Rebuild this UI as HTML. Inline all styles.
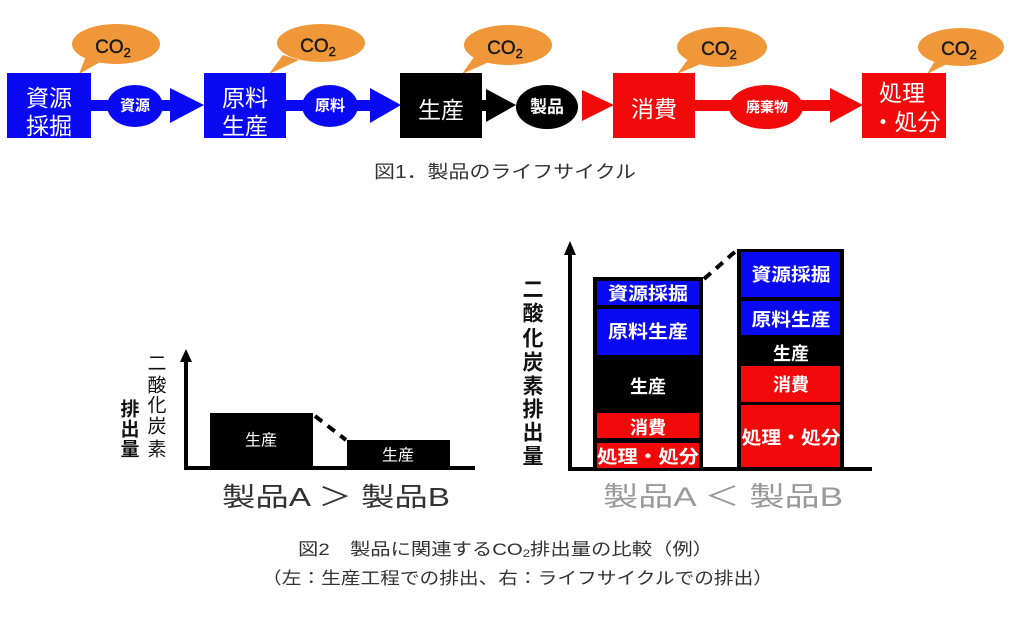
<!DOCTYPE html>
<html><head><meta charset="utf-8"><style>
html,body{margin:0;padding:0;background:#fff;}
svg{display:block;}
text{font-family:"Liberation Sans","Noto Sans CJK JP",sans-serif;}
</style></head><body>
<svg width="1024" height="617" viewBox="0 0 1024 617" xmlns="http://www.w3.org/2000/svg">
<rect width="1024" height="617" fill="#fff"/>

<!-- clouds -->
<g fill="#f0973a">
<ellipse cx="116" cy="44" rx="44" ry="20"/><polygon points="86,56 102,61 79,74"/>
<ellipse cx="321" cy="43" rx="44" ry="19"/><polygon points="283,55 299,60 269,74"/>
<ellipse cx="508" cy="45" rx="44" ry="20"/><polygon points="474,57 489,62 462,74"/>
<ellipse cx="722" cy="47" rx="45" ry="20"/><polygon points="689,58 703,63 677,74"/>
<ellipse cx="961" cy="47" rx="43" ry="19"/><polygon points="936,59 949,63 927,74"/>
</g>
<g fill="#1a1a1a" font-size="19" text-anchor="middle" stroke="#1a1a1a" stroke-width="0.4">
<text x="113" y="53">CO<tspan font-size="13" dy="4">2</tspan></text>
<text x="318" y="52">CO<tspan font-size="13" dy="4">2</tspan></text>
<text x="505" y="54">CO<tspan font-size="13" dy="4">2</tspan></text>
<text x="719" y="55">CO<tspan font-size="13" dy="4">2</tspan></text>
<text x="959" y="55">CO<tspan font-size="13" dy="4">2</tspan></text>
</g>

<!-- connectors -->
<rect x="90" y="100" width="85" height="11" fill="#0a0af2"/>
<ellipse cx="135" cy="106" rx="28" ry="21" fill="#0a0af2"/>
<polygon points="170,88 170,123 204,105" fill="#0a0af2"/>
<rect x="285" y="100" width="88" height="11" fill="#0a0af2"/>
<ellipse cx="330" cy="106" rx="28" ry="21" fill="#0a0af2"/>
<polygon points="370,88 370,123 401,105" fill="#0a0af2"/>
<rect x="481" y="100" width="10" height="11" fill="#000"/>
<polygon points="486,89 486,122 516,105" fill="#000"/>
<ellipse cx="547" cy="107" rx="31" ry="22" fill="#000"/>
<polygon points="582,90 582,121 614,105" fill="#f20a0a"/>
<rect x="694" y="100" width="140" height="11" fill="#f20a0a"/>
<ellipse cx="766" cy="107" rx="37" ry="22" fill="#f20a0a"/>
<polygon points="830,88 830,123 863,105" fill="#f20a0a"/>

<g fill="#fff" font-weight="bold" text-anchor="middle" dominant-baseline="central">
<text x="135" y="106" font-size="15">資源</text>
<text x="330" y="106" font-size="15">原料</text>
<text x="547" y="107" font-size="17">製品</text>
<text x="767" y="107" font-size="14">廃棄物</text>
</g>

<!-- boxes -->
<rect x="7" y="73" width="84" height="65" fill="#0a0af2"/>
<rect x="204" y="73" width="82" height="65" fill="#0a0af2"/>
<rect x="400" y="73" width="82" height="65" fill="#000"/>
<rect x="613" y="73" width="82" height="65" fill="#f20a0a"/>
<rect x="862" y="73" width="84" height="65" fill="#f20a0a"/>
<g fill="#fff" font-size="23" text-anchor="middle" dominant-baseline="central">
<text x="49" y="98">資源</text>
<text x="49" y="126">採掘</text>
<text x="245" y="98">原料</text>
<text x="245" y="126">生産</text>
<text x="441" y="110">生産</text>
<text x="654" y="109">消費</text>
<text x="902" y="93">処理</text>
<text x="906" y="122">・処分</text>
</g>

<text x="374" y="178" font-size="18" fill="#333" textLength="262" lengthAdjust="spacingAndGlyphs">図1．製品のライフサイクル</text>

<!-- Fig2 left -->
<line x1="186" y1="358" x2="186" y2="470" stroke="#000" stroke-width="4"/>
<polygon points="180,362 192,362 186,349" fill="#000"/>
<line x1="184" y1="468" x2="475" y2="468" stroke="#000" stroke-width="4"/>
<rect x="210" y="413" width="103" height="55" fill="#000"/>
<rect x="347" y="440" width="103" height="28" fill="#000"/>
<line x1="315" y1="416" x2="346" y2="440" stroke="#000" stroke-width="4" stroke-dasharray="9,7"/>
<g fill="#fff" font-size="16" text-anchor="middle" dominant-baseline="central">
<text x="261" y="441">生産</text>
<text x="398" y="456">生産</text>
</g>
<g fill="#111" font-size="19" text-anchor="middle" dominant-baseline="central">
<text x="157" y="364">二</text>
<text x="157" y="386">酸</text>
<text x="157" y="406">化</text>
<text x="157" y="427">炭</text>
<text x="157" y="450">素</text>
<text x="130" y="410" font-weight="bold">排</text>
<text x="130" y="430" font-weight="bold">出</text>
<text x="130" y="450" font-weight="bold">量</text>
</g>
<text x="222" y="506" font-size="26" fill="#333" textLength="228" lengthAdjust="spacingAndGlyphs">製品A ＞ 製品B</text>

<!-- Fig2 right -->
<line x1="570" y1="252" x2="570" y2="471" stroke="#000" stroke-width="4"/>
<polygon points="564,255 576,255 570,241" fill="#000"/>
<line x1="568" y1="469" x2="872" y2="469" stroke="#000" stroke-width="4"/>

<rect x="593" y="277" width="110" height="194" fill="#000"/>
<rect x="597" y="281" width="102" height="24" fill="#0a0af2"/>
<rect x="597" y="309" width="102" height="46" fill="#0a0af2"/>
<rect x="597" y="413" width="102" height="25" fill="#f20a0a"/>
<rect x="597" y="443" width="102" height="25" fill="#f20a0a"/>

<rect x="737" y="249" width="107" height="221" fill="#000"/>
<rect x="741" y="252" width="99" height="45" fill="#0a0af2"/>
<rect x="741" y="301" width="99" height="34" fill="#0a0af2"/>
<rect x="741" y="366" width="99" height="36" fill="#f20a0a"/>
<rect x="741" y="405" width="99" height="62" fill="#f20a0a"/>

<line x1="704" y1="279" x2="737" y2="250" stroke="#000" stroke-width="4" stroke-dasharray="9,7"/>

<g fill="#fff" font-size="18" font-weight="bold" text-anchor="middle" dominant-baseline="central">
<text x="648" y="294" textLength="80" lengthAdjust="spacingAndGlyphs">資源採掘</text>
<text x="648" y="332" textLength="80" lengthAdjust="spacingAndGlyphs">原料生産</text>
<text x="648" y="387">生産</text>
<text x="648" y="428">消費</text>
<text x="648" y="457" textLength="102" lengthAdjust="spacingAndGlyphs">処理・処分</text>
<text x="791" y="275" textLength="79" lengthAdjust="spacingAndGlyphs">資源採掘</text>
<text x="791" y="320" textLength="79" lengthAdjust="spacingAndGlyphs">原料生産</text>
<text x="791" y="354">生産</text>
<text x="791" y="385">消費</text>
<text x="791" y="438" textLength="99" lengthAdjust="spacingAndGlyphs">処理・処分</text>
</g>
<g fill="#111" font-size="21" font-weight="bold" text-anchor="middle" dominant-baseline="central">
<text x="533" y="290">二</text>
<text x="533" y="314">酸</text>
<text x="533" y="339">化</text>
<text x="533" y="363">炭</text>
<text x="533" y="387">素</text>
<text x="533" y="410">排</text>
<text x="533" y="433">出</text>
<text x="533" y="457">量</text>
</g>
<text x="603" y="506" font-size="27" fill="#9a9a9a" textLength="240" lengthAdjust="spacingAndGlyphs">製品A ＜ 製品B</text>

<!-- captions -->
<text x="298" y="555" font-size="17" fill="#333" textLength="415" lengthAdjust="spacingAndGlyphs">図2　製品に関連するCO<tspan font-size="11" dy="2">2</tspan><tspan dy="-2">排出量の比較（例）</tspan></text>
<text x="262" y="584" font-size="17" fill="#333" textLength="511" lengthAdjust="spacingAndGlyphs">（左：生産工程での排出、右：ライフサイクルでの排出）</text>
</svg>
</body></html>
